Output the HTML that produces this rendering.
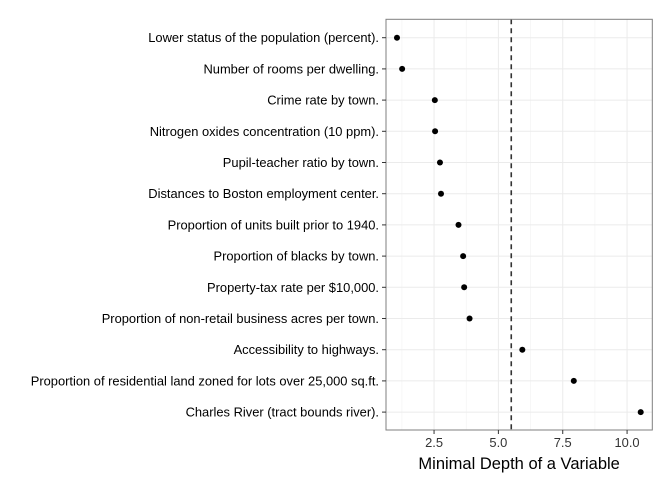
<!DOCTYPE html>
<html><head><meta charset="utf-8"><style>
body{margin:0;background:#fff;}
svg{display:block;font-family:"Liberation Sans",Arial,sans-serif;}
</style></head><body>
<svg id="chart" width="672" height="480"></svg>
<script>
const categories=["Lower status of the population (percent).","Number of rooms per dwelling.","Crime rate by town.","Nitrogen oxides concentration (10 ppm).","Pupil-teacher ratio by town.","Distances to Boston employment center.","Proportion of units built prior to 1940.","Proportion of blacks by town.","Property-tax rate per $10,000.","Proportion of non-retail business acres per town.","Accessibility to highways.","Proportion of residential land zoned for lots over 25,000 sq.ft.","Charles River (tract bounds river)."];
const depthValues=[1.06,1.26,2.53,2.54,2.73,2.77,3.45,3.63,3.67,3.88,5.93,7.93,10.53];
const threshold=[5.5];
const tickValues=[2.5,5.0,7.5,10.0];
const tickLabels=["2.5","5.0","7.5","10.0"];
const minorTicks=[1.25,3.75,6.25,8.75];

const NS="http://www.w3.org/2000/svg";
const svg=document.getElementById('chart');
const L=386,R=652.3,T=19.3,B=430;
const xMin=0.633,xMax=10.98;
const x=v=>L+(v-xMin)/(xMax-xMin)*(R-L);
const y=i=>37.7+i*31.2;
function mk(tag,attrs,parent){const e=document.createElementNS(NS,tag);for(const k in attrs)e.setAttribute(k,attrs[k]);(parent||svg).appendChild(e);return e;}

const panel=mk('rect',{x:L,y:T,width:R-L,height:B-T,fill:'#fff'});



minorTicks.forEach(v=>{
  const g=mk('line',{x1:x(v),x2:x(v),y1:T,y2:B,stroke:'#f2f2f2','stroke-width':0.6});
  
  
});
tickValues.forEach(v=>{
  const g=mk('line',{x1:x(v),x2:x(v),y1:T,y2:B,stroke:'#ebebeb','stroke-width':1});
  
  
});
categories.forEach((c,i)=>{
  const g=mk('line',{x1:L,x2:R,y1:y(i),y2:y(i),stroke:'#ebebeb','stroke-width':1});
  
  
});

const th=mk('line',{x1:x(threshold[0]),x2:x(threshold[0]),y1:T,y2:B,stroke:'#333','stroke-width':1.6,'stroke-dasharray':'5,4'});



const border=mk('rect',{x:L,y:T,width:R-L,height:B-T,fill:'none',stroke:'#7f7f7f','stroke-width':1});



categories.forEach((c,i)=>{
  const tk=mk('line',{x1:L-4,x2:L,y1:y(i),y2:y(i),stroke:'#333','stroke-width':1});
  
  
  const t=mk('text',{x:L-7,y:y(i)+4.5,'text-anchor':'end','font-size':12.9,fill:'#000'});
  t.textContent=c;
  
  
  const p=mk('circle',{cx:x(depthValues[i]),cy:y(i),r:3,fill:'#000'});
  
  
});
tickValues.forEach((v,i)=>{
  const tk=mk('line',{x1:x(v),x2:x(v),y1:B,y2:B+4,stroke:'#333','stroke-width':1});
  
  
  const t=mk('text',{x:x(v),y:B+17,'text-anchor':'middle','font-size':12.9,fill:'#333'});
  t.textContent=tickLabels[i];
  
  
});
const xt=mk('text',{x:(L+R)/2,y:469,'text-anchor':'middle','font-size':16.5,fill:'#000'});
xt.textContent='Minimal Depth of a Variable';


</script>
</body></html>
